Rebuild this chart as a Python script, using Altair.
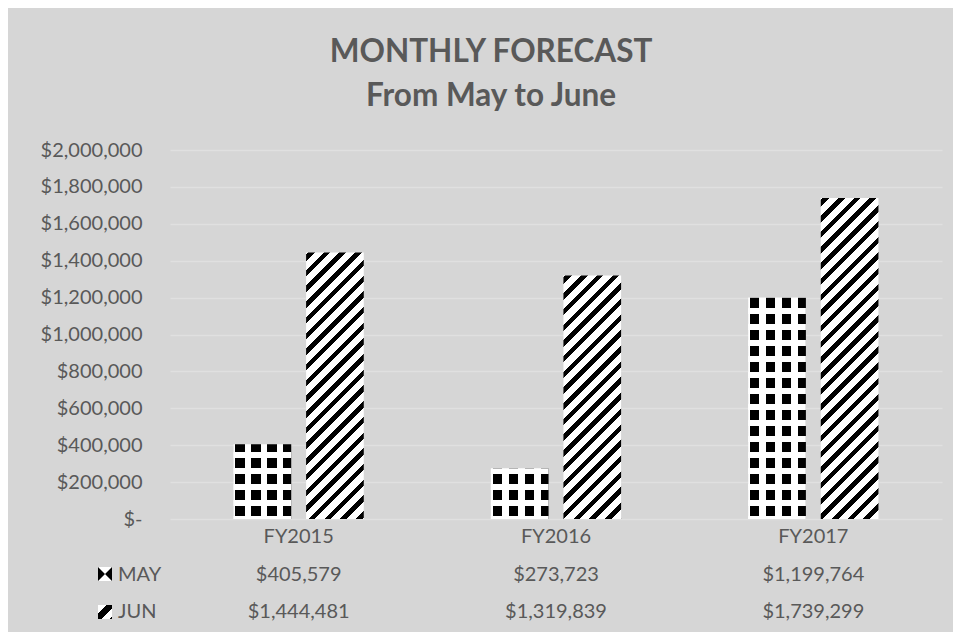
import altair as alt
import pandas as pd

# ---------------- data ----------------
categories = ["FY2015", "FY2016", "FY2017"]
series = ["MAY", "JUN"]
may_values = [405579, 273723, 1199764]
jun_values = [1444481, 1319839, 1739299]
y_ticks = [0, 200000, 400000, 600000, 800000, 1000000,
           1200000, 1400000, 1600000, 1800000, 2000000]

rows = []
for c, m, j in zip(categories, may_values, jun_values):
    rows.append({"cat": c, "series": "MAY", "value": m})
    rows.append({"cat": c, "series": "JUN", "value": j})
df = pd.DataFrame(rows)

# ---------------- layout / style ----------------
W, H = 772, 369
YMAX = 2000000
PI, PO = 0.494, 0.247
PI2 = 0.205
step = W / (len(categories) - PI + 2 * PO)
band = step * (1 - PI)
step2 = band / (len(series) - PI2)
bar_w = step2 * (1 - PI2)

BG = "#d6d6d6"
GRID = "#e0e0e0"
TXT = "#595959"
FONT = "Lato"
CLEAR = "rgba(255,255,255,0)"


def band_stops(L, period, on_len, first_on_start, on_color, off_color):
    s = first_on_start
    while s > 0:
        s -= period
    intervals = []
    while s < L:
        a, b = max(s, 0.0), min(s + on_len, L)
        if b > a:
            intervals.append((a, b))
        s += period
    stops, pos = [], 0.0
    for a, b in intervals:
        if a > pos:
            stops += [(pos, off_color), (a, off_color)]
        stops += [(a, on_color), (b, on_color)]
        pos = b
    if pos < L:
        stops += [(pos, off_color), (L, off_color)]
    return [{"offset": round(p / L, 5), "color": col} for p, col in stops]


def diag_gradient(h, w, period=15.7, black=6.5):
    r = h / w
    a = (1 + r) / (1 + r * r)
    total = w + h
    return {"gradient": "linear", "x1": 0, "y1": 0, "x2": a, "y2": a * r,
            "stops": band_stops(total, period, black, 2.0, "black", "white")}


def vdots_gradient(w, period=16.0, dot=9.5, first_center=6.5):
    return {"gradient": "linear", "x1": 0, "y1": 0, "x2": 1, "y2": 0,
            "stops": band_stops(w, period, dot, first_center - dot / 2, "black", "white")}


def hgaps_gradient(h, period=16.0, dot=9.5, bottom_center=8.0):
    return {"gradient": "linear", "x1": 0, "y1": 0, "x2": 0, "y2": 1,
            "stops": band_stops(h, period, dot, h - bottom_center - dot / 2, CLEAR, "white")}


x_enc = alt.X("cat:N", scale=alt.Scale(domain=categories, paddingInner=PI, paddingOuter=PO), axis=None)
xo_enc = alt.XOffset("series:N", scale=alt.Scale(domain=series, paddingInner=PI2, paddingOuter=0))
y_enc = alt.Y("value:Q", scale=alt.Scale(domain=[0, YMAX], nice=False),
              axis=alt.Axis(values=y_ticks, title=None, domain=False, ticks=False,
                            grid=True, gridColor=GRID, gridWidth=1.5,
                            labelPadding=28, labelFont=FONT, labelFontSize=20,
                            labelColor=TXT,
                            labelExpr="datum.value == 0 ? '$-\u2002' : '$' + format(datum.value, ',')"))

base = alt.Chart(df)
layers = []
for c, m, j in zip(categories, may_values, jun_values):
    hm = m / YMAX * H
    hj = j / YMAX * H
    sel_m = (alt.datum.cat == c) & (alt.datum.series == "MAY")
    sel_j = (alt.datum.cat == c) & (alt.datum.series == "JUN")
    layers.append(base.transform_filter(sel_m).mark_bar(fill=vdots_gradient(bar_w))
                  .encode(x=x_enc, xOffset=xo_enc, y=y_enc))
    layers.append(base.transform_filter(sel_m).mark_bar(fill=hgaps_gradient(hm))
                  .encode(x=x_enc, xOffset=xo_enc, y=y_enc))
    layers.append(base.transform_filter(sel_j).mark_bar(fill=diag_gradient(hj, bar_w))
                  .encode(x=x_enc, xOffset=xo_enc, y=y_enc))

# data table below the plot
Y_CAT, Y_MAY, Y_JUN = 387, 425, 462
txt = dict(font=FONT, fontSize=20, color=TXT, baseline="middle")
layers.append(base.transform_filter(alt.datum.series == "MAY").mark_text(**txt)
              .encode(x=x_enc, y=alt.value(Y_CAT), text="cat:N"))
layers.append(base.transform_filter(alt.datum.series == "MAY").mark_text(**txt)
              .encode(x=x_enc, y=alt.value(Y_MAY), text=alt.Text("value:Q", format="$,.0f")))
layers.append(base.transform_filter(alt.datum.series == "JUN").mark_text(**txt)
              .encode(x=x_enc, y=alt.value(Y_JUN), text=alt.Text("value:Q", format="$,.0f")))

lab_may = alt.Chart(pd.DataFrame({"t": [series[0]]}))
lab_jun = alt.Chart(pd.DataFrame({"t": [series[1]]}))
layers.append(lab_may.mark_text(align="left", **txt)
              .encode(x=alt.value(-52), y=alt.value(Y_MAY), text="t:N"))
layers.append(lab_jun.mark_text(align="left", **txt)
              .encode(x=alt.value(-52), y=alt.value(Y_JUN), text="t:N"))

# legend keys
ICON = 196
layers.append(lab_may.mark_square(size=ICON, fill="white", opacity=1, filled=True)
              .encode(x=alt.value(-65), y=alt.value(Y_MAY - 1)))
layers.append(lab_may.mark_point(shape="M-1,-1L0,0L-1,1Z M1,-1L0,0L1,1Z", size=ICON,
                                 fill="black", filled=True, opacity=1)
              .encode(x=alt.value(-65), y=alt.value(Y_MAY - 1)))
icon_jun = {"gradient": "linear", "x1": 0, "y1": 0, "x2": 1, "y2": 1,
            "stops": [{"offset": 0, "color": "white"}, {"offset": 0.3, "color": "white"},
                      {"offset": 0.3, "color": "black"}, {"offset": 0.62, "color": "black"},
                      {"offset": 0.62, "color": "white"}, {"offset": 0.9, "color": "white"},
                      {"offset": 0.9, "color": "black"}, {"offset": 1, "color": "black"}]}
layers.append(lab_jun.mark_square(size=ICON, fill=icon_jun, filled=True, opacity=1)
              .encode(x=alt.value(-65), y=alt.value(Y_JUN)))

chart = alt.layer(*layers).properties(
    width=W, height=H,
    background=BG,
    autosize=alt.AutoSizeParams(type="none"),
    padding={"left": 162, "top": 142, "right": 11, "bottom": 113},
    title=alt.TitleParams(["MONTHLY FORECAST", "From May to June"],
                          font=FONT, fontSize=31.5, fontWeight="bold", color=TXT,
                          lineHeight=44, anchor="middle", frame="bounds",
                          baseline="alphabetic", offset=3),
).configure_view(strokeOpacity=0)

chart.save("out.html", embed_options={"renderer": "svg", "actions": False})
